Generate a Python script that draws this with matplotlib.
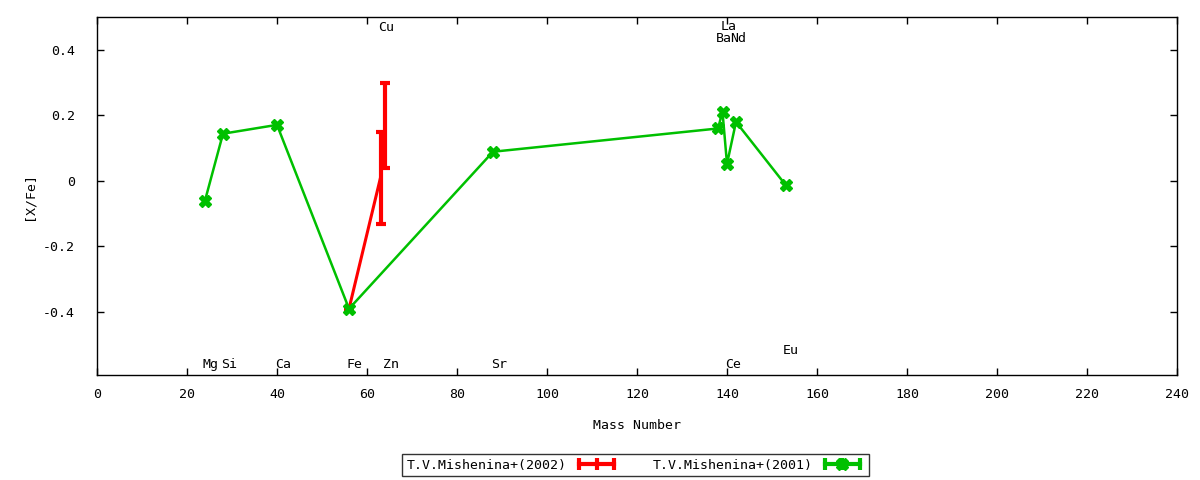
import matplotlib
matplotlib.use("Agg")
import matplotlib.pyplot as plt
from matplotlib.lines import Line2D
from matplotlib.legend_handler import HandlerLine2D, HandlerTuple
from matplotlib.ticker import FuncFormatter

plt.rcParams['font.family'] = ['DejaVu Sans Mono']

# --- data ---
red_label = "T.V.Mishenina+(2002)"
red_mass = [56, 63, 64]
red_val = [-0.39, 0.01, 0.17]
red_err = [0.0, 0.14, 0.13]

green_label = "T.V.Mishenina+(2001)"
green_mass = [24, 28, 40, 56, 88, 138, 139, 140, 142, 153]
green_val = [-0.06, 0.144, 0.171, -0.39, 0.089, 0.16, 0.211, 0.052, 0.18, -0.012]

elem_names = ["Mg", "Si", "Ca", "Fe", "Cu", "Zn", "Sr", "Ba", "La", "Ce", "Nd", "Eu"]
elem_mass = [24, 28, 40, 56, 63, 64, 88, 138, 139, 140, 141.3, 153]
elem_ypos = [-0.559, -0.559, -0.559, -0.559, 0.467, -0.559, -0.559, 0.435, 0.472, -0.559, 0.435, -0.516]

xticks = list(range(0, 241, 20))
yticks = [-0.4, -0.2, 0, 0.2, 0.4]

RED = "#ff0000"
GREEN = "#00c000"

fig = plt.figure(figsize=(12, 4.8), dpi=100)
ax = fig.add_axes([97/1200, 1 - 375/480, (1177-97)/1200, (375-17)/480])

ax.errorbar(red_mass, red_val, yerr=red_err, color=RED, lw=2.2, elinewidth=3,
            capsize=3.5, capthick=3, zorder=2)
ax.plot(green_mass, green_val, color=GREEN, lw=1.8, marker='X', ms=8.5,
        mec=GREEN, mfc=GREEN, zorder=3)

fs = 9.5
for n, m, y in zip(elem_names, elem_mass, elem_ypos):
    ax.text(m - 0.5, y, n, ha='left', va='center', fontsize=fs)

ax.set_xlim(0, 240)
ax.set_ylim(-0.592, 0.5)
ax.set_xticks(xticks)
ax.set_yticks(yticks)
ax.yaxis.set_major_formatter(FuncFormatter(lambda v, p: "0" if abs(v) < 1e-9 else f"{v:.1f}"))
ax.tick_params(direction='in', length=5, width=1, top=True, right=True,
               labelsize=fs)
ax.tick_params(axis='x', pad=9.5)
ax.tick_params(axis='y', pad=16)
for s in ax.spines.values():
    s.set_linewidth(1)

ax.set_xlabel("Mass Number", fontsize=fs, labelpad=13)
ax.set_ylabel("[X/Fe]", fontsize=fs, labelpad=5)

red_h = Line2D([], [], color=RED, lw=3, marker='|', ms=8, mew=3)
g_caps = Line2D([], [], color=GREEN, lw=3, marker='|', ms=8, mew=3)
g_x = Line2D([], [], color=GREEN, ls='none', marker='X', ms=8)
hmap = {red_h: HandlerLine2D(numpoints=3), g_caps: HandlerLine2D(numpoints=3),
        g_x: HandlerLine2D(numpoints=1), tuple: HandlerTuple(ndivide=1)}
leg = fig.legend([red_h, (g_caps, g_x)], [red_label, green_label],
                 handler_map=hmap, ncol=2, markerfirst=False,
                 loc='center', bbox_to_anchor=(635.5/1200, 15/480),
                 fontsize=fs, frameon=True, fancybox=False, edgecolor='black',
                 handlelength=3.3, handletextpad=0.6, columnspacing=2.6,
                 borderpad=0.35, borderaxespad=0)
leg.get_frame().set_linewidth(1)

fig.savefig("out.png", dpi=100)
